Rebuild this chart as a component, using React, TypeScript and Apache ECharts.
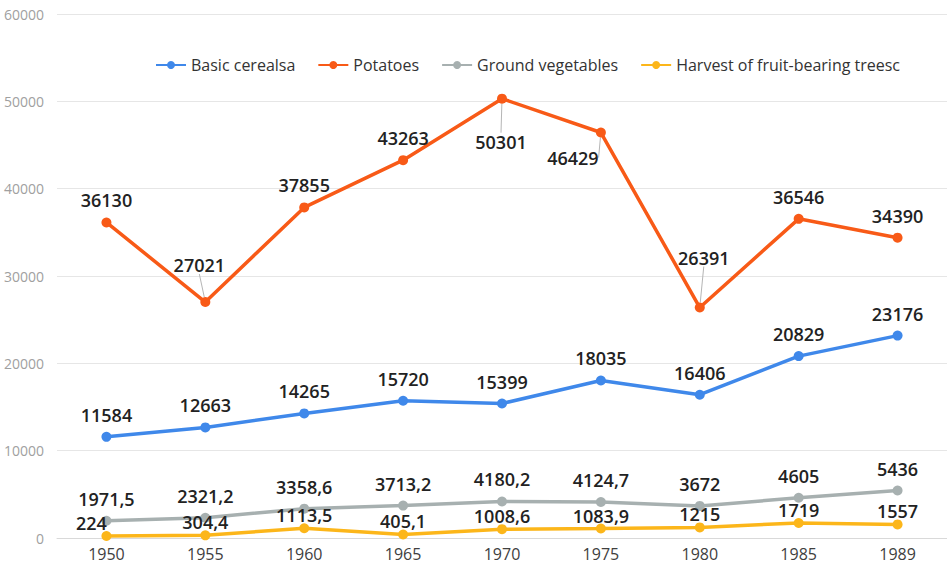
import React, { useEffect, useRef } from "react";
import * as echarts from "echarts";

const years = ["1950", "1955", "1960", "1965", "1970", "1975", "1980", "1985", "1989"];
const cereals = [11584, 12663, 14265, 15720, 15399, 18035, 16406, 20829, 23176];
const potatoes = [36130, 27021, 37855, 43263, 50301, 46429, 26391, 36546, 34390];
const groundVeg = [1971.5, 2321.2, 3358.6, 3713.2, 4180.2, 4124.7, 3672, 4605, 5436];
const fruitTrees = [224, 304.4, 1113.5, 405.1, 1008.6, 1083.9, 1215, 1719, 1557];
const seriesNames = ["Basic cerealsa", "Potatoes", "Ground vegetables", "Harvest of fruit-bearing treesc"];
const colors = ["#3f88ea", "#f85a17", "#a7b0b0", "#fcb61a"];

const FONT = "'Open Sans', 'Noto Sans', sans-serif";

export default function App() {
  const ref = useRef<HTMLDivElement>(null);
  useEffect(() => {
    if (!ref.current) return;
    const chart = echarts.init(ref.current, null, { renderer: "svg" });
    const fmt = (p: any) => String(p.value).replace(".", ",");
    const labelBase = {
      show: true,
      position: "top",
      fontFamily: FONT,
      fontSize: 18,
      fontWeight: 600,
      color: "#222",
      formatter: fmt,
    };
    const potatoShift: Record<number, { dx: number; dy: number }> = {
      1: { dx: -6, dy: -15 },
      4: { dx: -1, dy: 65 },
      5: { dx: -28, dy: 47 },
      6: { dx: 4, dy: -28 },
    };
    const potatoData = potatoes.map((v, i) =>
      potatoShift[i]
        ? { value: v, labelLine: { show: true } }
        : { value: v, labelLine: { show: false } }
    );
    const mk = (name: string, data: any[], color: string, dist: number, extra: any = {}) => ({
      name,
      type: "line",
      data,
      symbol: "circle",
      symbolSize: 10,
      lineStyle: { color, width: 3.5 },
      itemStyle: { color },
      label: { ...labelBase, distance: dist },
      ...extra,
    });
    chart.setOption({
      animation: false,
      backgroundColor: "#ffffff",
      color: colors,
      legend: {
        left: 150,
        top: 52,
        itemWidth: 30,
        itemHeight: 10,
        itemGap: 22,
        textStyle: { fontFamily: FONT, fontSize: 16, color: "#333" },
        data: seriesNames,
      },
      grid: { left: 57, right: 0, top: 14, bottom: 34 },
      xAxis: {
        type: "category",
        data: years,
        axisLine: { lineStyle: { color: "#d9d9d9" } },
        axisTick: { show: false },
        axisLabel: { fontFamily: FONT, fontSize: 16, color: "#404040", margin: 8 },
      },
      yAxis: {
        type: "value",
        min: 0,
        max: 60000,
        interval: 10000,
        axisLine: { show: false },
        axisTick: { show: false },
        splitLine: { lineStyle: { color: "#e6e6e6" } },
        axisLabel: {
          fontFamily: FONT,
          fontSize: 14,
          color: "#a0a0a0",
          margin: 13,
          formatter: (v: number) => String(v),
        },
      },
      series: [
        mk(seriesNames[0], cereals, colors[0], 8),
        mk(seriesNames[1], potatoData, colors[1], 8, {
          labelLine: { show: true, lineStyle: { color: "#b5b5b5", width: 1 } },
          labelLayout: (params: any) => {
            const s = potatoShift[params.dataIndex];
            return s ? { dx: s.dx, dy: s.dy } : {};
          },
        }),
        mk(seriesNames[2], groundVeg, colors[2], 8),
        mk(seriesNames[3], fruitTrees, colors[3], -1, {
          labelLayout: (params: any) => (params.dataIndex === 0 ? { dx: -15 } : {}),
        }),
      ],
    });
    return () => chart.dispose();
  }, []);
  return (
    <div
      ref={ref}
      style={{ position: "fixed", left: 0, top: 0, width: 947, height: 572, background: "#fff" }}
    />
  );
}
